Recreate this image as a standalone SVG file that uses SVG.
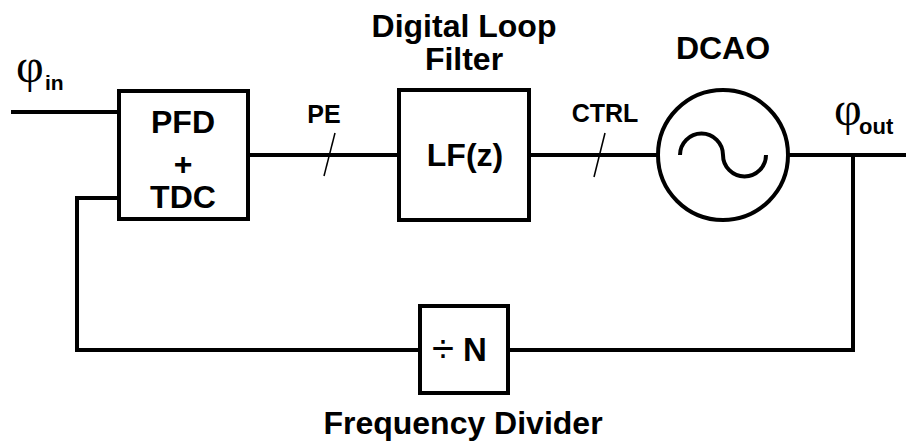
<svg xmlns="http://www.w3.org/2000/svg" width="906" height="441" viewBox="0 0 906 441">
<style>
.w{stroke:#000;stroke-width:4;fill:none}
.box{stroke:#000;stroke-width:4;fill:#fff}
.thin{stroke:#000;stroke-width:1.5;fill:none}
.t{font-family:"Liberation Sans",Arial,sans-serif;font-weight:bold;fill:#000;text-anchor:middle}
.s{font-family:"Liberation Sans",Arial,sans-serif;font-weight:bold;fill:#000}
.g{font-family:"Liberation Serif","Times New Roman",serif;fill:#000}
</style>
<rect width="906" height="441" fill="#fff"/>
<g id="connectors">
<path class="w" d="M11,112 H119"/>
<path class="w" d="M248,155 H399"/>
<path class="w" d="M529,155 H658"/>
<path class="w" d="M788,155 H906"/>
<path class="w" d="M853,155 V350 H508"/>
<path class="w" d="M420,350 H77 V198 H119"/>
<path class="thin" d="M335,133 L324,176"/>
<path class="thin" d="M605,133 L594,177"/>
</g>
<g id="labels">
<text class="g" x="16" y="82" font-size="48">φ</text>
<text class="s" x="45" y="90" font-size="21">in</text>
<text class="g" x="834" y="125" font-size="48">φ</text>
<text class="s" x="859" y="134" font-size="22">out</text>
<text class="t" x="324" y="123" font-size="25">PE</text>
<text class="t" x="605" y="122" font-size="25">CTRL</text>
</g>
<g id="pfd">
<rect class="box" x="119" y="91" width="129" height="128"/>
<text class="t" x="183" y="133" font-size="32">PFD</text>
<text class="t" x="183" y="175" font-size="32">+</text>
<text class="t" x="183" y="208" font-size="32">TDC</text>
</g>
<g id="lf">
<rect class="box" x="399" y="90" width="130" height="130"/>
<text class="t" x="465" y="166" font-size="32">LF(z)</text>
<text class="t" x="464" y="37" font-size="32">Digital Loop</text>
<text class="t" x="464" y="70" font-size="32">Filter</text>
</g>
<g id="dcao">
<circle class="box" cx="723" cy="155" r="65"/>
<path class="w" d="M680,155 A21.5,21.5 0 0 1 723,155 A21.5,21.5 0 0 0 766,155"/>
<text class="t" x="723" y="59" font-size="32">DCAO</text>
</g>
<g id="divider">
<rect class="box" x="420" y="306" width="88" height="87"/>
<text x="443" y="362" font-size="40" font-family="Liberation Sans,Arial,sans-serif" text-anchor="middle">÷</text>
<text class="t" x="475" y="361" font-size="33">N</text>
<text class="t" x="463" y="434" font-size="32">Frequency Divider</text>
</g>
</svg>
